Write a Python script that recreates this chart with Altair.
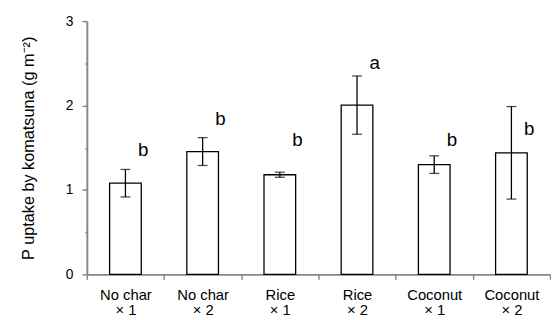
import altair as alt
import pandas as pd

char_types = ["No char", "No char", "Rice", "Rice", "Coconut", "Coconut"]
rates = ["× 1", "× 2", "× 1", "× 2", "× 1", "× 2"]
p_uptake = [1.08, 1.455, 1.18, 2.005, 1.30, 1.44]
p_error = [0.163, 0.165, 0.03, 0.345, 0.104, 0.548]
letters = ["b", "b", "b", "a", "b", "b"]
letter_y = [1.47, 1.84, 1.59, 2.50, 1.59, 1.72]
y_ticks = [0, 0.5, 1, 1.5, 2, 2.5, 3]

cats = [f"{c}\n{r}" for c, r in zip(char_types, rates)]
df = pd.DataFrame({
    "cat": cats,
    "value": p_uptake,
    "lower": [v - e for v, e in zip(p_uptake, p_error)],
    "upper": [v + e for v, e in zip(p_uptake, p_error)],
    "letter": letters,
    "ly": letter_y,
})

FONT = "Liberation Sans"
GRAY = "#878787"

x = alt.X("cat:N", sort=cats, title=None,
          scale=alt.Scale(paddingInner=0, paddingOuter=0),
          axis=alt.Axis(labelAngle=0, labelExpr="split(datum.label, '\\n')",
                        tickBand="extent", tickSize=5, tickColor=GRAY, tickWidth=1.5,
                        domainColor=GRAY, domainWidth=2, labelPadding=9,
                        labelFont=FONT, labelFontSize=15, labelLineHeight=15,
                        labelColor="black"))

yscale = alt.Scale(domain=[0, 3], nice=False)
yaxis = alt.Axis(values=y_ticks,
                 labelExpr="datum.value % 1 == 0 ? format(datum.value, 'd') : ''",
                 tickSize={"condition": {"test": "datum.value % 1 != 0", "value": 2}, "value": 5},
                 tickColor=GRAY, tickWidth=1.5, domainColor=GRAY, domainWidth=2,
                 labelPadding=9, labelFont=FONT, labelFontSize=14, labelColor="black",
                 grid=False, title="P uptake by komatsuna  (g m⁻²)", titleFont=FONT,
                 titleFontSize=16.5, titleFontWeight="normal", titleColor="black",
                 titlePadding=29)

base = alt.Chart(df)

bars = base.mark_bar(width=alt.RelativeBandSize(0.41), fill="white", stroke="black",
                     strokeWidth=1.3).encode(
    x=x, y=alt.Y("value:Q", scale=yscale, axis=yaxis))

rules = base.mark_rule(color="black", strokeWidth=1.3).encode(
    x=alt.X("cat:N", sort=cats), y="lower:Q", y2="upper:Q")

cap_top = base.mark_tick(orient="horizontal", size=10, thickness=1.3, color="black").encode(
    x=alt.X("cat:N", sort=cats), y="upper:Q")
cap_bot = base.mark_tick(orient="horizontal", size=10, thickness=1.3, color="black").encode(
    x=alt.X("cat:N", sort=cats), y="lower:Q")

text = base.mark_text(dx=18, fontSize=19, font=FONT, fontWeight="normal",
                      baseline="middle", color="black").encode(
    x=alt.X("cat:N", sort=cats), y="ly:Q", text="letter:N")

chart = alt.layer(bars, rules, cap_top, cap_bot, text).properties(
    width=470, height=257,
    autosize=alt.AutoSizeParams(type="none"),
    padding={"left": 80, "top": 11, "right": 1, "bottom": 44},
).configure_view(stroke=None)

chart.save("out.html", embed_options={"renderer": "svg", "actions": False})
